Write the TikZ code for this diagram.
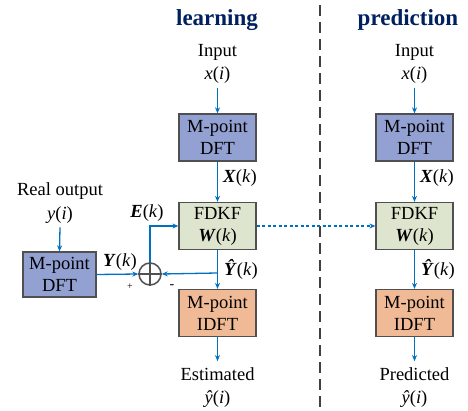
\documentclass[tikz,border=0pt]{standalone}
\usepackage{fontspec}
\setmainfont{Liberation Serif}
\usetikzlibrary{arrows.meta,calc}
\definecolor{navy}{RGB}{0,32,96}
\definecolor{arrowblue}{RGB}{0,112,192}
\definecolor{dftfill}{RGB}{146,160,210}
\definecolor{kffill}{RGB}{221,229,207}
\definecolor{idftfill}{RGB}{241,186,150}
\definecolor{edgegray}{RGB}{80,80,80}
\newcommand{\bi}[1]{\textbf{\textit{#1}}}
\begin{document}
\begin{tikzpicture}[x=1pt,y=-1pt,
  box/.style={draw=edgegray,line width=1.3pt,minimum width=77pt,minimum height=47pt,inner sep=0pt,align=center,font=\fontsize{18.5}{22}\selectfont},
  dftbox/.style={box,fill=dftfill},
  kfbox/.style={box,fill=kffill},
  idftbox/.style={box,fill=idftfill},
  txt/.style={align=center,inner sep=0pt,font=\fontsize{18.5}{23.5}\selectfont},
  lbl/.style={inner sep=0pt,font=\fontsize{18.5}{22}\selectfont},
  ttl/.style={inner sep=0pt,text=navy,font=\fontsize{23}{26}\selectfont\bfseries},
  flow/.style={draw=arrowblue,line width=1.3pt,-{Stealth[length=6pt,width=5pt]}},
  wire/.style={draw=arrowblue,line width=1.3pt}
]
\useasboundingbox (0,0) rectangle (468,411);

% titles
\node[ttl] (t1) at (217,20) {learning};
\node[ttl] (t2) at (408,20) {prediction};

% divider
\coordinate (dtop) at (320,5);
\coordinate (dbot) at (320,411);
\draw[draw=black!75,line width=2pt,dash pattern=on 11pt off 6pt] (dtop) -- (dbot);

% learning column
\node[txt] (in1) at (217.5,64) {Input\\\textit{x}(\textit{i})};
\node[dftbox] (dft1) at (217.5,137.5) {M-point\\DFT};
\node[kfbox] (kf1) at (217.5,226) {FDKF\\\bi{W}(\textit{k})};
\node[idftbox] (idft1) at (217.5,313) {M-point\\IDFT};
\node[txt] (est) at (217.5,387.5) {Estimated\\\textit{ŷ}(\textit{i})};

% left branch
\node[txt] (real) at (60,203) {Real output\\\textit{y}(\textit{i})};
\node[dftbox,minimum width=73pt,minimum height=45pt] (dft0) at (59.5,274.5) {M-point\\DFT};
\node[draw=edgegray,line width=1.5pt,circle,minimum size=22pt,inner sep=0pt] (sum) at (150,274) {};
\draw[edgegray,line width=1.5pt] (sum.north) -- (sum.south) (sum.west) -- (sum.east);

% prediction column
\node[txt] (in2) at (414.5,64) {Input\\\textit{x}(\textit{i})};
\node[dftbox] (dft2) at (414.5,137.5) {M-point\\DFT};
\node[kfbox] (kf2) at (414.5,226) {FDKF\\\bi{W}(\textit{k})};
\node[idftbox] (idft2) at (414.5,313) {M-point\\IDFT};
\node[txt] (pred) at (414.5,387.5) {Predicted\\\textit{ŷ}(\textit{i})};

% connectors learning
\draw[flow] ($(in1.south)+(0,4)$) -- (dft1.north);
\draw[flow] (dft1.south) -- (kf1.north);
\coordinate (br) at (217.5,273);
\draw[flow] (kf1.south) -- (idft1.north);
\draw[flow] (br) -- (sum.east);
\draw[flow] (sum.north) |- (kf1.west);
\draw[flow] (dft0.east) -- (sum.west);
\draw[flow] ($(real.south)+(0,4)$) -- (dft0.north);
\draw[flow] (idft1.south) -- ($(est.north)+(0,-6)$);
\draw[arrowblue,line width=1.5pt,dash pattern=on 3pt off 2.5pt,-{Stealth[length=6pt,width=5pt]}] (kf1.east) -- (kf2.west);

% connectors prediction
\draw[flow] ($(in2.south)+(0,4)$) -- (dft2.north);
\draw[flow] (dft2.south) -- (kf2.north);
\draw[flow] (kf2.south) -- (idft2.north);
\draw[flow] (idft2.south) -- ($(pred.north)+(0,-6)$);

% labels
\node[lbl] (lx1) at (240,178) {\bi{X}(\textit{k})};
\node[lbl] (ly1) at (241,269) {\bi{Ŷ}(\textit{k})};
\node[lbl] (le) at (147,213) {\bi{E}(\textit{k})};
\node[lbl] (ly0) at (120,262) {\bi{Y}(\textit{k})};
\node[inner sep=0pt,font=\fontsize{10}{12}\selectfont] (plus) at (130,287) {+};
\node[inner sep=0pt,font=\fontsize{14}{14}\selectfont] (minus) at (172,287) {-};
\node[lbl] (lx2) at (437,178) {\bi{X}(\textit{k})};
\node[lbl] (ly2) at (438,269) {\bi{Ŷ}(\textit{k})};
\end{tikzpicture}
\end{document}
